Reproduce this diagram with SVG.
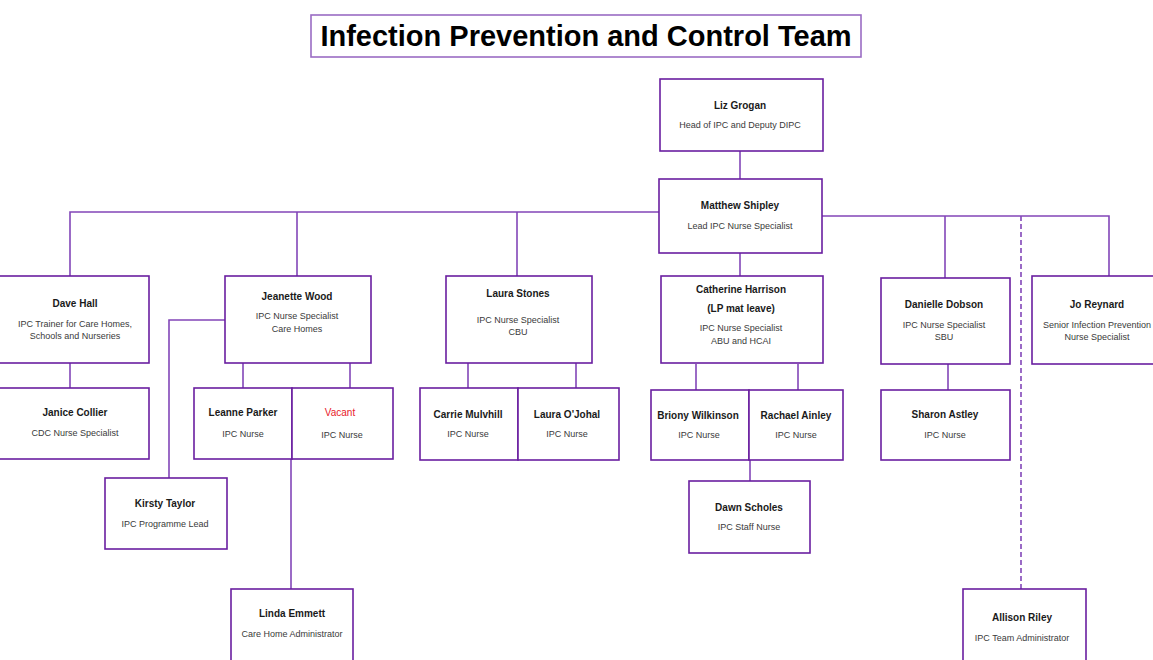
<svg xmlns="http://www.w3.org/2000/svg" width="1153" height="660" viewBox="0 0 1153 660">
<style>
.box{fill:#fff;stroke:#6a1fa0;stroke-width:1.6}
.tbox{fill:#fff;stroke:#9a6cc4;stroke-width:1.6}
.ln{fill:none;stroke:#8246b8;stroke-width:1.6}
.dash{fill:none;stroke:#8246b8;stroke-width:1.6;stroke-dasharray:5,3}
.nm{font-family:"Liberation Sans",Arial,sans-serif;font-size:10px;font-weight:bold;fill:#1a1a1a;text-anchor:middle}
.tt{font-family:"Liberation Sans",Arial,sans-serif;font-size:9px;fill:#3a3a3a;text-anchor:middle}
.red{fill:#e8202a;font-weight:normal}
.title{font-family:"Liberation Sans",Arial,sans-serif;font-size:29px;font-weight:bold;fill:#000;text-anchor:middle}
</style>
<rect width="1153" height="660" fill="#fff"/>
<g id="title">
<rect class="tbox" x="311" y="15" width="550" height="42"/>
<text class="title" x="586" y="46">Infection Prevention and Control Team</text>
</g>
<g id="connectors">
<path class="ln" d="M740 151V179"/>
<path class="ln" d="M659 212H70V276"/>
<path class="ln" d="M297 212V276"/>
<path class="ln" d="M517 212V276"/>
<path class="ln" d="M740 253V276"/>
<path class="ln" d="M822 216H1109V276"/>
<path class="ln" d="M945 216V278"/>
<path class="dash" d="M1021 216V589"/>
<path class="ln" d="M70 363V388"/>
<path class="ln" d="M225 320H169V478"/>
<path class="ln" d="M243 363V388"/>
<path class="ln" d="M350 363V388"/>
<path class="ln" d="M291 459V589"/>
<path class="ln" d="M468 363V388"/>
<path class="ln" d="M576 363V388"/>
<path class="ln" d="M696 364V390"/>
<path class="ln" d="M798 364V390"/>
<path class="ln" d="M750 452V481"/>
<path class="ln" d="M948 364V390"/>
</g>
<g id="liz"><rect class="box" x="660" y="79" width="163" height="72"/><text class="nm" x="740" y="109">Liz Grogan</text><text class="tt" x="740" y="128">Head of IPC and Deputy DIPC</text></g>
<g id="matthew"><rect class="box" x="659" y="179" width="163" height="74"/><text class="nm" x="740" y="209">Matthew Shipley</text><text class="tt" x="740" y="229">Lead IPC Nurse Specialist</text></g>
<g id="dave"><rect class="box" x="-2" y="276" width="151" height="87"/><text class="nm" x="75" y="307">Dave Hall</text><text class="tt" x="75" y="327">IPC Trainer for Care Homes,</text><text class="tt" x="75" y="339">Schools and Nurseries</text></g>
<g id="janice"><rect class="box" x="-2" y="388" width="151" height="71"/><text class="nm" x="75" y="416">Janice Collier</text><text class="tt" x="75" y="436">CDC Nurse Specialist</text></g>
<g id="jeanette"><rect class="box" x="225" y="276" width="146" height="87"/><text class="nm" x="297" y="300">Jeanette Wood</text><text class="tt" x="297" y="319">IPC Nurse Specialist</text><text class="tt" x="297" y="332">Care Homes</text></g>
<g id="leanne"><rect class="box" x="194" y="388" width="98" height="71"/><text class="nm" x="243" y="416">Leanne Parker</text><text class="tt" x="243" y="437">IPC Nurse</text></g>
<g id="vacant"><rect class="box" x="292" y="388" width="101" height="71"/><text class="nm red" x="340" y="416">Vacant</text><text class="tt" x="342" y="438">IPC Nurse</text></g>
<g id="kirsty"><rect class="box" x="105" y="478" width="122" height="71"/><text class="nm" x="165" y="507">Kirsty Taylor</text><text class="tt" x="165" y="527">IPC Programme Lead</text></g>
<g id="linda"><rect class="box" x="231" y="589" width="122" height="80"/><text class="nm" x="292" y="617">Linda Emmett</text><text class="tt" x="292" y="637">Care Home Administrator</text></g>
<g id="laura-stones"><rect class="box" x="446" y="276" width="146" height="87"/><text class="nm" x="518" y="297">Laura Stones</text><text class="tt" x="518" y="323">IPC Nurse Specialist</text><text class="tt" x="518" y="335">CBU</text></g>
<g id="carrie"><rect class="box" x="420" y="388" width="98" height="72"/><text class="nm" x="468" y="418">Carrie Mulvhill</text><text class="tt" x="468" y="437">IPC Nurse</text></g>
<g id="laura-ojohal"><rect class="box" x="518" y="388" width="101" height="72"/><text class="nm" x="567" y="418">Laura O'Johal</text><text class="tt" x="567" y="437">IPC Nurse</text></g>
<g id="catherine"><rect class="box" x="661" y="276" width="162" height="87"/><text class="nm" x="741" y="293">Catherine Harrison</text><text class="nm" x="741" y="312">(LP mat leave)</text><text class="tt" x="741" y="331">IPC Nurse Specialist</text><text class="tt" x="741" y="344">ABU and HCAI</text></g>
<g id="briony"><rect class="box" x="651" y="390" width="98" height="70"/><text class="nm" x="698" y="419">Briony Wilkinson</text><text class="tt" x="699" y="438">IPC Nurse</text></g>
<g id="rachael"><rect class="box" x="749" y="390" width="94" height="70"/><text class="nm" x="796" y="419">Rachael Ainley</text><text class="tt" x="796" y="438">IPC Nurse</text></g>
<g id="dawn"><rect class="box" x="689" y="481" width="121" height="72"/><text class="nm" x="749" y="511">Dawn Scholes</text><text class="tt" x="749" y="530">IPC Staff Nurse</text></g>
<g id="danielle"><rect class="box" x="881" y="278" width="129" height="86"/><text class="nm" x="944" y="308">Danielle Dobson</text><text class="tt" x="944" y="328">IPC Nurse Specialist</text><text class="tt" x="944" y="340">SBU</text></g>
<g id="sharon"><rect class="box" x="881" y="390" width="129" height="70"/><text class="nm" x="945" y="418">Sharon Astley</text><text class="tt" x="945" y="438">IPC Nurse</text></g>
<g id="jo"><rect class="box" x="1032" y="276" width="130" height="88"/><text class="nm" x="1097" y="308">Jo Reynard</text><text class="tt" x="1097" y="328">Senior Infection Prevention</text><text class="tt" x="1097" y="340">Nurse Specialist</text></g>
<g id="allison"><rect class="box" x="963" y="589" width="123" height="80"/><text class="nm" x="1022" y="621">Allison Riley</text><text class="tt" x="1022" y="641">IPC Team Administrator</text></g>
</svg>
